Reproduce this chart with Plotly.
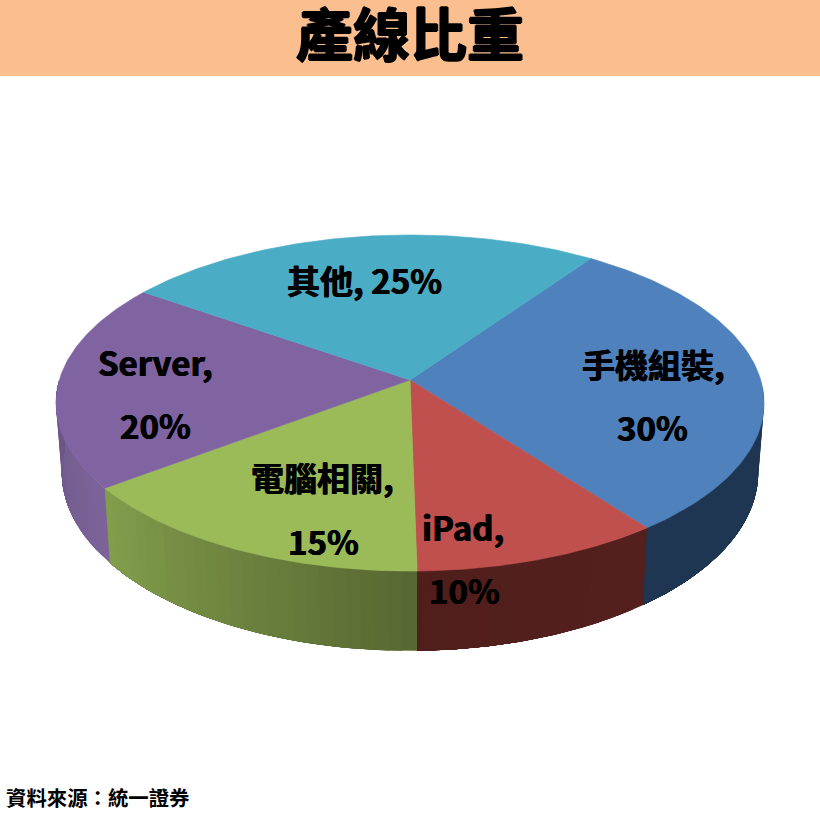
import numpy as np
import plotly.graph_objects as go

# slices, clockwise from the top-right edge
labels = ['手機組裝', 'iPad', '電腦相關', 'Server', '其他']
values = [30, 10, 15, 20, 25]

title_text = '產線比重'
source_text = '資料來源：統一證券'

top_colors = ['#4F81BD', '#C0504D', '#9BBB59', '#8064A2', '#4BACC6']
# side wall shade at the start and end of each slice
wall_colors = [((31, 54, 82), (31, 54, 82)),
               ((84, 32, 29), (80, 30, 27)),
               ((88, 104, 50), (130, 158, 76)),
               ((124, 100, 154), (106, 85, 133)),
               ((60, 130, 150), (60, 130, 150))]

# label text anchors: first line, second line
label_pos = [((653, 364), (652, 427)),
             ((463, 527), (464, 590)),
             ((322, 477), (323, 541)),
             ((155, 362), (155, 425))]

START_ANGLE = 35
# perspective of the tilted disc, in page pixels
CX, CY_TOP, CY_BOT = 410, 380, 448
RX_TOP, RY_TOP = 350.7, 164.9
RX_BOT, RY_BOT = 345, 175
K = 0.137


def project(deg, rx, ry, cy):
    t = np.radians(deg)
    px, py = np.sin(t), -np.cos(t)
    w = 1 - K * py
    return CX + rx * px / w, cy + ry * py / w


def add_poly(fig, xs, ys, color, lw=0.6):
    fig.add_trace(go.Scatter(x=xs, y=ys, mode='lines', fill='toself', fillcolor=color,
                             line=dict(color=color, width=lw), hoverinfo='skip', showlegend=False))


fig = go.Figure()

# Side walls first, the top face covers whatever sticks out.
# Each band runs to the end of its slice so the next one paints over it with no seam.
edges = START_ANGLE + np.cumsum([0] + values) * 3.6
for i in range(len(values)):
    a0 = max(edges[i], 90)
    a1 = min(edges[i + 1], 270)
    if a1 <= a0:
        continue
    n = max(2, int((a1 - a0) / 2))
    steps = np.linspace(a0, a1, n + 1)
    c0, c1 = wall_colors[i]
    for j in range(n):
        f = j / max(n - 1, 1)
        rgb = [round(c0[k] + (c1[k] - c0[k]) * f) for k in range(3)]
        seg = np.linspace(steps[j], a1, 40)
        tx, ty = project(seg, RX_TOP, RY_TOP, CY_TOP)
        bx, by = project(seg[::-1], RX_BOT, RY_BOT, CY_BOT)
        add_poly(fig, list(tx) + list(bx), list(ty) + list(by), f'rgb({rgb[0]},{rgb[1]},{rgb[2]})', lw=0)

# Top face
for i in range(len(values)):
    arc = np.linspace(edges[i], edges[i + 1], 90)
    ax, ay = project(arc, RX_TOP, RY_TOP, CY_TOP)
    add_poly(fig, [CX] + list(ax) + [CX], [CY_TOP] + list(ay) + [CY_TOP], top_colors[i])

cjk = 'Noto Sans CJK TC'
label_font = dict(family=cjk, size=33, color='#000000', weight='bold',
                  shadow='0.5px 0 0 #000, -0.5px 0 0 #000')

notes = []
for i in range(4):
    (x1, y1), (x2, y2) = label_pos[i]
    notes.append(dict(x=x1, y=y1, text=labels[i] + ',', font=label_font, showarrow=False))
    notes.append(dict(x=x2, y=y2, text=f'{values[i]}%', font=label_font, showarrow=False))
notes.append(dict(x=364, y=280, text=f'{labels[4]}, {values[4]}%', font=label_font, showarrow=False))
notes.append(dict(x=410, y=31, text=title_text, showarrow=False,
                  font=dict(family=cjk, size=57, color='#000000', weight='bold',
                            shadow='1px 0 0 #000, -1px 0 0 #000, 0 1px 0 #000, 0 -1px 0 #000')))
notes.append(dict(x=4, y=797, text=source_text, xanchor='left', showarrow=False,
                  font=dict(family=cjk, size=20.4, color='#000000', weight='bold')))

fig.update_layout(
    width=820, height=820,
    margin=dict(l=0, r=0, t=0, b=0),
    paper_bgcolor='white', plot_bgcolor='white',
    xaxis=dict(range=[0, 820], visible=False, fixedrange=True),
    yaxis=dict(range=[820, 0], visible=False, fixedrange=True),
    annotations=notes,
    shapes=[dict(type='rect', x0=0, x1=820, y0=0, y1=76, fillcolor='#FBBF8F', line_width=0, layer='below')],
)

fig.write_html('out.html', post_script="document.body.style.margin='0';",
               config={'displayModeBar': False})
